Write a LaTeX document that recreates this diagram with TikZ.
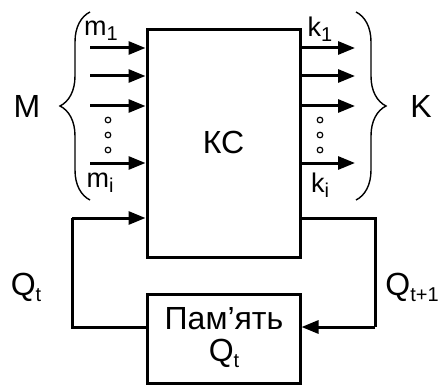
\documentclass[tikz,border=0pt]{standalone}
\usepackage{fontspec}
\setmainfont{Liberation Sans}
\usetikzlibrary{arrows.meta,positioning,calc,decorations.pathreplacing}

\newcommand{\lowidx}[1]{\raisebox{-0.35ex}{\fontsize{10}{11}\selectfont #1}}

\begin{document}
\begin{tikzpicture}[
    x=0.5pt, y=-0.5pt,
    font=\fontsize{16}{18}\selectfont,
    block/.style={
        rectangle, draw=black, line width=1.5pt, inner sep=0pt, align=center
    },
    sigArrow/.style={
        -{Triangle[length=8.5pt, width=6.5pt]}, line width=1.5pt
    },
    fbLine/.style={
        line width=1.5pt
    },
    setBrace/.style={
        decorate, decoration={brace, amplitude=15pt}, line width=0.7pt
    },
    dotMark/.style={
        circle, draw=black, line width=0.6pt, minimum size=2.8pt, inner sep=0pt
    },
    sigLabel/.style={
        font=\fontsize{13.5}{15}\selectfont, inner sep=0pt
    }
]
\useasboundingbox (0,0) rectangle (444,385);

% Combinational circuit and memory
\node[block, minimum width=76.5pt, minimum height=113.5pt] (ks) at (223.5,143.5) {};
\node (kslabel) at (223.5,142) {КС};
\node[block, minimum width=76.5pt, minimum height=44.5pt] (mem) at (223.5,338.5) {};
\node[align=center] (memlabel) at (224,338) {Пам’ять\\[-2pt]Q\lowidx{t}};

% Input and output signals
\foreach \y/\n in {48/1,76/2,106/3,163/4} {
    \coordinate (in\n) at (90,\y);
    \coordinate (out\n) at (355,\y);
    \draw[sigArrow] (in\n) -- (in\n -| ks.west);
    \draw[sigArrow] (out\n -| ks.east) -- (out\n);
}
\foreach \y/\n in {120/1,135/2,150/3} {
    \node[dotMark] (ldot\n) at (108,\y) {};
    \node[dotMark] (rdot\n) at (320,\y) {};
}
\node[sigLabel] (m1) at (101,31) {m\lowidx{1}};
\node[sigLabel] (mi) at (100,183) {m\lowidx{i}};
\node[sigLabel] (k1) at (320,29) {k\lowidx{1}};
\node[sigLabel] (ki) at (320,185) {k\lowidx{i}};

% Braces
\coordinate (lbrtop) at (90,12);
\coordinate (lbrbot) at (90,200);
\coordinate (rbrtop) at (356,12);
\coordinate (rbrbot) at (356,200);
\draw[setBrace] (lbrbot) -- (lbrtop);
\draw[setBrace] (rbrtop) -- (rbrbot);
\node (M) at (27,106) {M};
\node (K) at (421,106) {K};

% Feedback loop
\coordinate (fbin) at (ks.west |- 0,218);
\coordinate (fbout) at (ks.east |- 0,218);
\coordinate (memin) at (mem.east |- 0,327);
\coordinate (memout) at (mem.west |- 0,327);
\draw[fbLine] (memout) -| (72,218) coordinate (lcorner);
\draw[sigArrow] (lcorner) -- (fbin);
\draw[fbLine] (fbout) -| (375,327) coordinate (rcorner);
\draw[sigArrow] (rcorner) -- (memin);
\node (qt) at (26,287) {Q\lowidx{t}};
\node (qt1) at (412,287) {Q\lowidx{t+1}};

\end{tikzpicture}
\end{document}
